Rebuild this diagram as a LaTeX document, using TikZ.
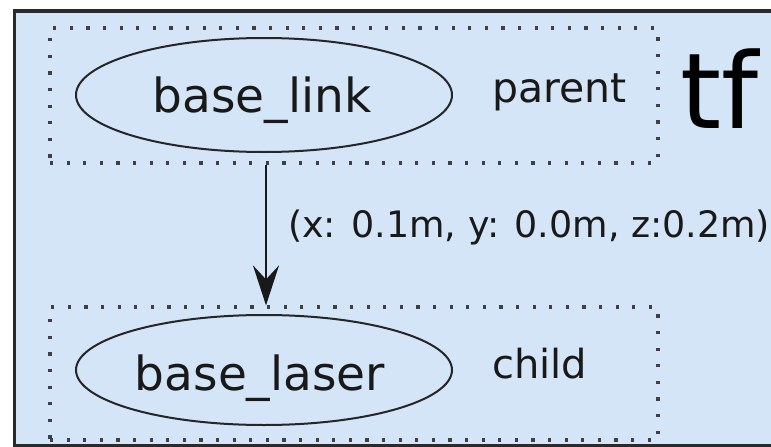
\documentclass[tikz,border=0pt]{standalone}
\usepackage{fontspec}
\setmainfont{DejaVu Sans}
\usetikzlibrary{shapes.geometric,arrows.meta}
\definecolor{bgblue}{HTML}{D4E5F8}
\definecolor{framecol}{HTML}{2A2A2A}
\definecolor{dotcol}{HTML}{404040}
\begin{document}
\begin{tikzpicture}[x=1pt,y=-1pt,
  cluster/.style={draw=dotcol, line width=3.2pt, dash pattern=on 3.2pt off 13.4pt, inner sep=0pt, minimum width=608pt},
  nodeell/.style={draw=black!85, ellipse, line width=2pt, minimum width=376pt, inner sep=0pt},
  txt/.style={inner sep=0pt, anchor=base west, text=black!90},
  ctxt/.style={inner sep=0pt, anchor=base, text=black!90, font=\fontsize{47}{52}\selectfont}]
\useasboundingbox (0,0) rectangle (771,447);
\begin{scope}
  \clip (0,0) rectangle (771,447);
  \draw[fill=bgblue, draw=framecol, line width=3.2pt] (14.5,11) rectangle (790,446);
\end{scope}
% clusters
\node[cluster, minimum height=135pt] (c1) at (354,95.5) {};
\node[cluster, minimum height=133pt] (c2) at (354,373.5) {};
% ellipses
\node[nodeell, minimum height=114pt] (e1) at (264,95) {};
\node[nodeell, minimum height=110pt] (e2) at (264,370) {};
\node[ctxt] (t1) at (262,112) {base\_link};
\node[ctxt] (t2) at (260,390) {base\_laser};
% side labels
\node[txt, font=\fontsize{41}{45}\selectfont] (parent) at (492,102) {parent};
\node[txt, font=\fontsize{40}{44}\selectfont] (child) at (492,378) {child};
\node[txt, font=\fontsize{105}{110}\selectfont, text=black] (tf) at (680,128) {tf};
% edge
\draw[line width=2.4pt, draw=black!90, -{Stealth[length=40pt,width=26pt,inset=14pt]}]
  ([xshift=2pt]e1.south |- c1.south) -- ([xshift=2pt]e1.south |- c2.north);
\node[txt, font=\fontsize{36.4}{40}\selectfont] (lbl) at (288,237) {(x: 0.1m, y: 0.0m, z:0.2m)};
\end{tikzpicture}
\end{document}
